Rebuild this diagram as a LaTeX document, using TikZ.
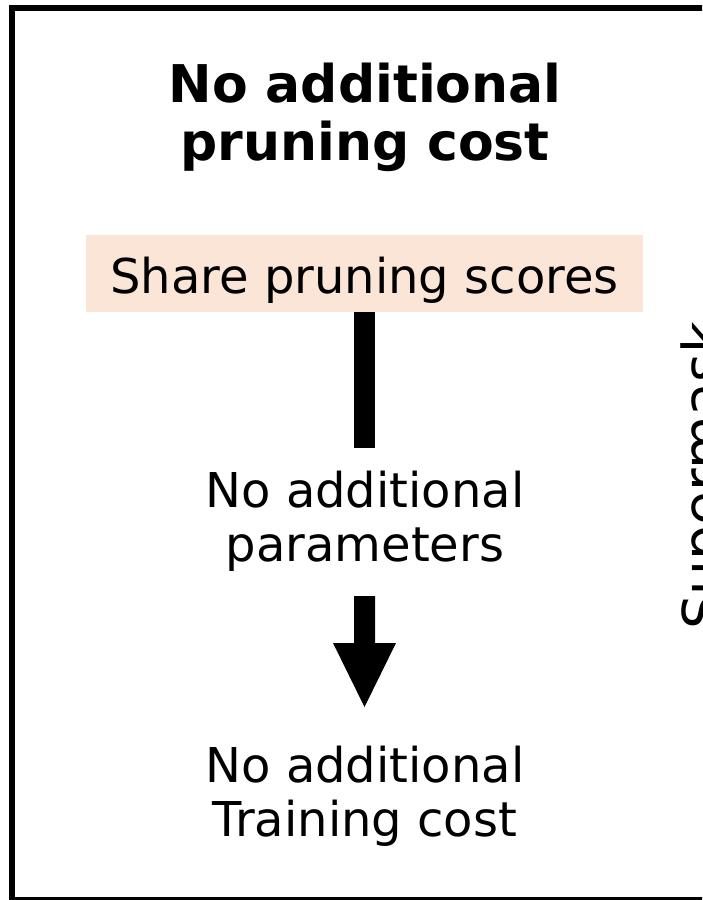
\documentclass[tikz,border=0pt]{standalone}
\usepackage{fontspec}
\setmainfont{DejaVu Sans}
\usetikzlibrary{calc}
\definecolor{peach}{RGB}{251,229,214}

\tikzset{
  headline/.style={font=\fontsize{52}{58}\selectfont\bfseries, align=center, inner sep=0pt},
  plain/.style={font=\fontsize{48}{54}\selectfont, align=center, inner sep=0pt},
  scorebox/.style={plain, fill=peach, minimum width=557pt, minimum height=77pt,
                   text height=39pt, text depth=0pt},
  bar/.style={line width=21pt},
  frame/.style={line width=6pt},
}

\begin{document}
\begin{tikzpicture}[x=1pt, y=-1pt]
  \useasboundingbox (0,0) rectangle (702,900);
  \clip (0,0) rectangle (702,900);

  % panel frame (continues past the right edge)
  \draw[frame] (12,8) rectangle (780,900);

  % heading (base anchor = baseline of the last line)
  \node[headline, anchor=base] (title) at (365,160) {No additional\\pruning cost};

  % shared scores box
  \node[scorebox] (share) at (364.5,273.5) {Share pruning scores};

  % consequences
  \node[plain, anchor=base] (params) at (365,561) {No additional\\parameters};
  \node[plain, anchor=base] (train) at (365,836) {No additional\\Training cost};

  % neighbouring panel label
  \node[plain, font=\fontsize{55}{60}\selectfont, rotate=90, anchor=base] (sm) at (722,476) {Supermask};

  % plain bar below the box
  \coordinate (barend) at (364.5,448);
  \draw[bar] (share.south) -- (barend);

  % block arrow between the two consequences
  \coordinate (a1) at (364.5,596);
  \coordinate (a2) at (364.5,707);
  \fill ($(a1)+(-10.5,0)$) -- ($(a2)+(-10.5,-64)$) -- ($(a2)+(-31.5,-64)$) -- (a2)
        -- ($(a2)+(31.5,-64)$) -- ($(a2)+(10.5,-64)$) -- ($(a1)+(10.5,0)$) -- cycle;
\end{tikzpicture}
\end{document}
